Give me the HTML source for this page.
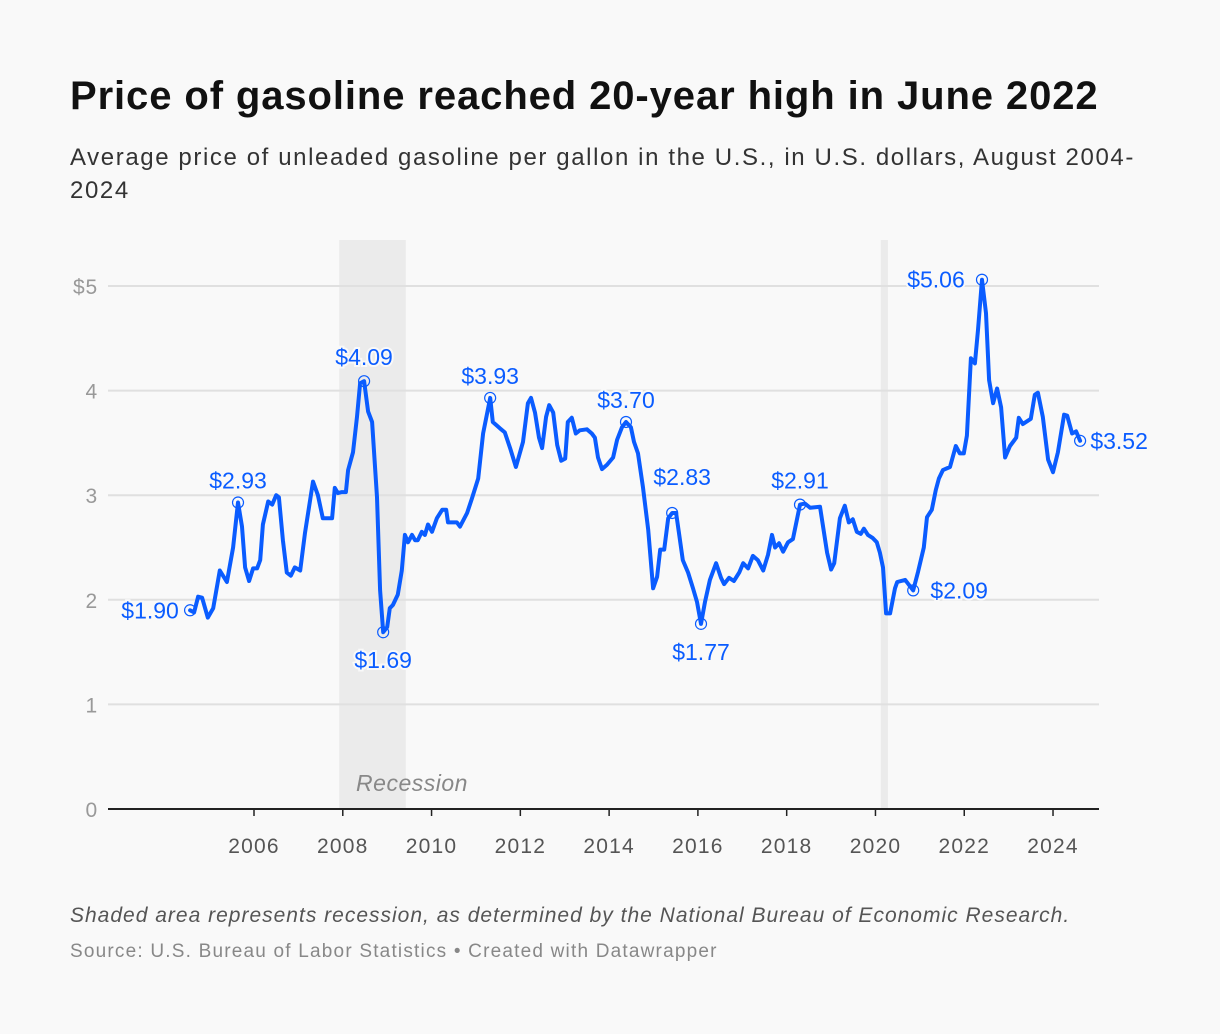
<!DOCTYPE html>
<html><head><meta charset="utf-8">
<style>
body{margin:0;background:#f9f9f9;font-family:"Liberation Sans",Arial,sans-serif;}
#wrap{position:relative;width:1220px;height:1034px;overflow:hidden;}
.t{position:absolute;left:70px;white-space:nowrap;}
</style></head>
<body>
<div id="wrap">
<div class="t" style="top:74px;font-size:40px;font-weight:bold;color:#111;letter-spacing:0.9px;">Price of gasoline reached 20-year high in June 2022</div>
<div class="t" style="top:141px;font-size:24px;line-height:33px;color:#333;letter-spacing:1.6px;">Average price of unleaded gasoline per gallon in the U.S., in U.S. dollars, August 2004-<br>2024</div>
<svg id="chart" width="1220" height="1034" style="position:absolute;left:0;top:0"></svg>
<div class="t" style="top:904px;font-size:21px;font-style:italic;color:#555;letter-spacing:1px;">Shaded area represents recession, as determined by the National Bureau of Economic Research.</div>
<div class="t" style="top:941px;font-size:19px;color:#888;letter-spacing:1.2px;">Source: U.S. Bureau of Labor Statistics • Created with Datawrapper</div>
</div>
<script>
const years=[2004.56,2004.65,2004.74,2004.83,2004.96,2005.08,2005.23,2005.39,2005.53,2005.64,2005.73,2005.80,2005.89,2005.98,2006.07,2006.14,2006.20,2006.32,2006.41,2006.50,2006.56,2006.65,2006.74,2006.83,2006.92,2007.04,2007.15,2007.33,2007.44,2007.55,2007.76,2007.82,2007.89,2007.98,2008.07,2008.12,2008.23,2008.32,2008.39,2008.48,2008.57,2008.66,2008.77,2008.84,2008.91,2009.00,2009.06,2009.13,2009.24,2009.33,2009.40,2009.47,2009.56,2009.63,2009.69,2009.78,2009.85,2009.92,2010.01,2010.12,2010.24,2010.33,2010.37,2010.57,2010.64,2010.80,2010.91,2011.05,2011.16,2011.32,2011.38,2011.54,2011.65,2011.77,2011.90,2012.06,2012.17,2012.24,2012.33,2012.42,2012.49,2012.58,2012.65,2012.74,2012.83,2012.92,2013.01,2013.07,2013.16,2013.25,2013.34,2013.50,2013.61,2013.68,2013.75,2013.84,2013.95,2014.09,2014.18,2014.29,2014.38,2014.49,2014.56,2014.65,2014.76,2014.88,2014.99,2015.08,2015.15,2015.24,2015.33,2015.42,2015.51,2015.57,2015.66,2015.78,2015.89,2015.98,2016.07,2016.16,2016.27,2016.41,2016.52,2016.59,2016.70,2016.81,2016.93,2017.02,2017.13,2017.24,2017.35,2017.47,2017.58,2017.67,2017.74,2017.83,2017.92,2018.03,2018.14,2018.30,2018.41,2018.53,2018.75,2018.91,2019.00,2019.07,2019.20,2019.31,2019.40,2019.49,2019.58,2019.67,2019.74,2019.83,2019.94,2020.03,2020.10,2020.17,2020.24,2020.33,2020.44,2020.49,2020.67,2020.85,2020.96,2021.09,2021.16,2021.27,2021.36,2021.43,2021.52,2021.68,2021.81,2021.90,2021.99,2022.06,2022.15,2022.24,2022.31,2022.40,2022.49,2022.56,2022.65,2022.74,2022.83,2022.92,2023.03,2023.17,2023.23,2023.32,2023.50,2023.59,2023.66,2023.77,2023.89,2024.00,2024.11,2024.25,2024.32,2024.43,2024.52,2024.61];
const prices=[1.90,1.88,2.03,2.02,1.83,1.92,2.28,2.17,2.50,2.93,2.70,2.31,2.18,2.30,2.30,2.38,2.72,2.94,2.91,3.00,2.98,2.57,2.26,2.23,2.31,2.28,2.64,3.13,3.00,2.78,2.78,3.07,3.02,3.03,3.03,3.24,3.41,3.75,4.07,4.09,3.80,3.70,2.98,2.09,1.69,1.74,1.92,1.95,2.05,2.28,2.62,2.55,2.62,2.57,2.57,2.65,2.62,2.72,2.65,2.78,2.86,2.86,2.74,2.74,2.70,2.83,2.97,3.16,3.59,3.93,3.70,3.64,3.60,3.45,3.27,3.51,3.88,3.93,3.79,3.55,3.45,3.75,3.86,3.79,3.48,3.33,3.35,3.70,3.74,3.59,3.62,3.63,3.59,3.55,3.36,3.25,3.29,3.36,3.53,3.65,3.70,3.65,3.51,3.40,3.08,2.67,2.11,2.22,2.48,2.48,2.78,2.83,2.83,2.65,2.38,2.26,2.11,1.98,1.77,1.98,2.19,2.35,2.21,2.15,2.21,2.18,2.26,2.35,2.30,2.42,2.38,2.28,2.43,2.62,2.50,2.54,2.46,2.55,2.58,2.91,2.92,2.88,2.89,2.45,2.29,2.35,2.78,2.90,2.74,2.77,2.65,2.63,2.68,2.62,2.59,2.55,2.45,2.31,1.87,1.87,2.11,2.17,2.19,2.09,2.27,2.50,2.79,2.86,3.05,3.16,3.24,3.27,3.47,3.40,3.40,3.57,4.31,4.26,4.58,5.06,4.74,4.10,3.88,4.02,3.84,3.36,3.47,3.55,3.74,3.68,3.73,3.96,3.98,3.75,3.34,3.22,3.41,3.77,3.76,3.59,3.61,3.52];
const yTicks=[0,1,2,3,4,5];
const yTickLabels=["0","1","2","3","4","$5"];
const xTicks=[2006,2008,2010,2012,2014,2016,2018,2020,2022,2024];
const recessionStart=[2007.92,2020.12];
const recessionEnd=[2009.42,2020.28];
const annoYears=[2004.56,2005.64,2008.48,2008.91,2011.32,2014.38,2015.42,2016.07,2018.30,2020.85,2022.40,2024.61];
const annoValues=[1.90,2.93,4.09,1.69,3.93,3.70,2.83,1.77,2.91,2.09,5.06,3.52];

const xS=y=>254+(y-2006)*44.39;
const yS=v=>809-v*104.6;
const svg=document.getElementById('chart');
const NS='http://www.w3.org/2000/svg';
function mk(tag,attrs,parent){const e=document.createElementNS(NS,tag);for(const k in attrs)e.setAttribute(k,attrs[k]);(parent||svg).appendChild(e);return e;}

recessionStart.forEach((s,i)=>{
  const r=mk('rect',{x:xS(s),y:240,width:xS(recessionEnd[i])-xS(s),height:569,fill:'#ebebeb'});
  
  
});
const rl=mk('text',{x:412,y:791,'text-anchor':'middle','font-size':23,'font-style':'italic',fill:'#888','letter-spacing':0.5});
rl.textContent='Recession';



yTicks.forEach((t,i)=>{
  if(t>0){const g=mk('line',{x1:108,x2:1099,y1:yS(t),y2:yS(t),stroke:'#e0e0e0','stroke-width':2});
  
  }
  const l=mk('text',{x:98,y:yS(t)+8,'text-anchor':'end','font-size':21,fill:'#999','letter-spacing':0.8});
  l.textContent=yTickLabels[i];
  
  
});
const ax=mk('line',{x1:108,x2:1099,y1:809,y2:809,stroke:'#222','stroke-width':2});


xTicks.forEach(t=>{
  const tk=mk('line',{x1:xS(t),x2:xS(t),y1:809,y2:816,stroke:'#222','stroke-width':1.5});
  
  
  const l=mk('text',{x:xS(t),y:853,'text-anchor':'middle','font-size':21,fill:'#555','letter-spacing':1.2});
  l.textContent=t;
  
  
});
const d=years.map((y,i)=>(i?'L':'M')+xS(y).toFixed(1)+' '+yS(prices[i]).toFixed(1)).join(' ');
const line=mk('path',{d:d,fill:'none',stroke:'#0a5cff','stroke-width':4,'stroke-linejoin':'round','stroke-linecap':'round'});



const offX=[-40,0,0,0,0,0,10,0,0,46,-46,39];
const offY=[0,-22,-24,28,-22,-22,-36,28,-24,0,0,0];
annoYears.forEach((y,i)=>{
  const cx=xS(y),cy=yS(annoValues[i]);
  const c=mk('circle',{cx:cx,cy:cy,r:5.5,fill:'none',stroke:'#0a5cff','stroke-width':1.2});
  
  
  const t=mk('text',{x:cx+offX[i],y:cy+offY[i]+8,'text-anchor':'middle','font-size':23,fill:'#0a5cff',stroke:'#f9f9f9','stroke-width':4,'paint-order':'stroke'});
  t.textContent='$'+annoValues[i].toFixed(2);
  
  
});
</script>
</body></html>
